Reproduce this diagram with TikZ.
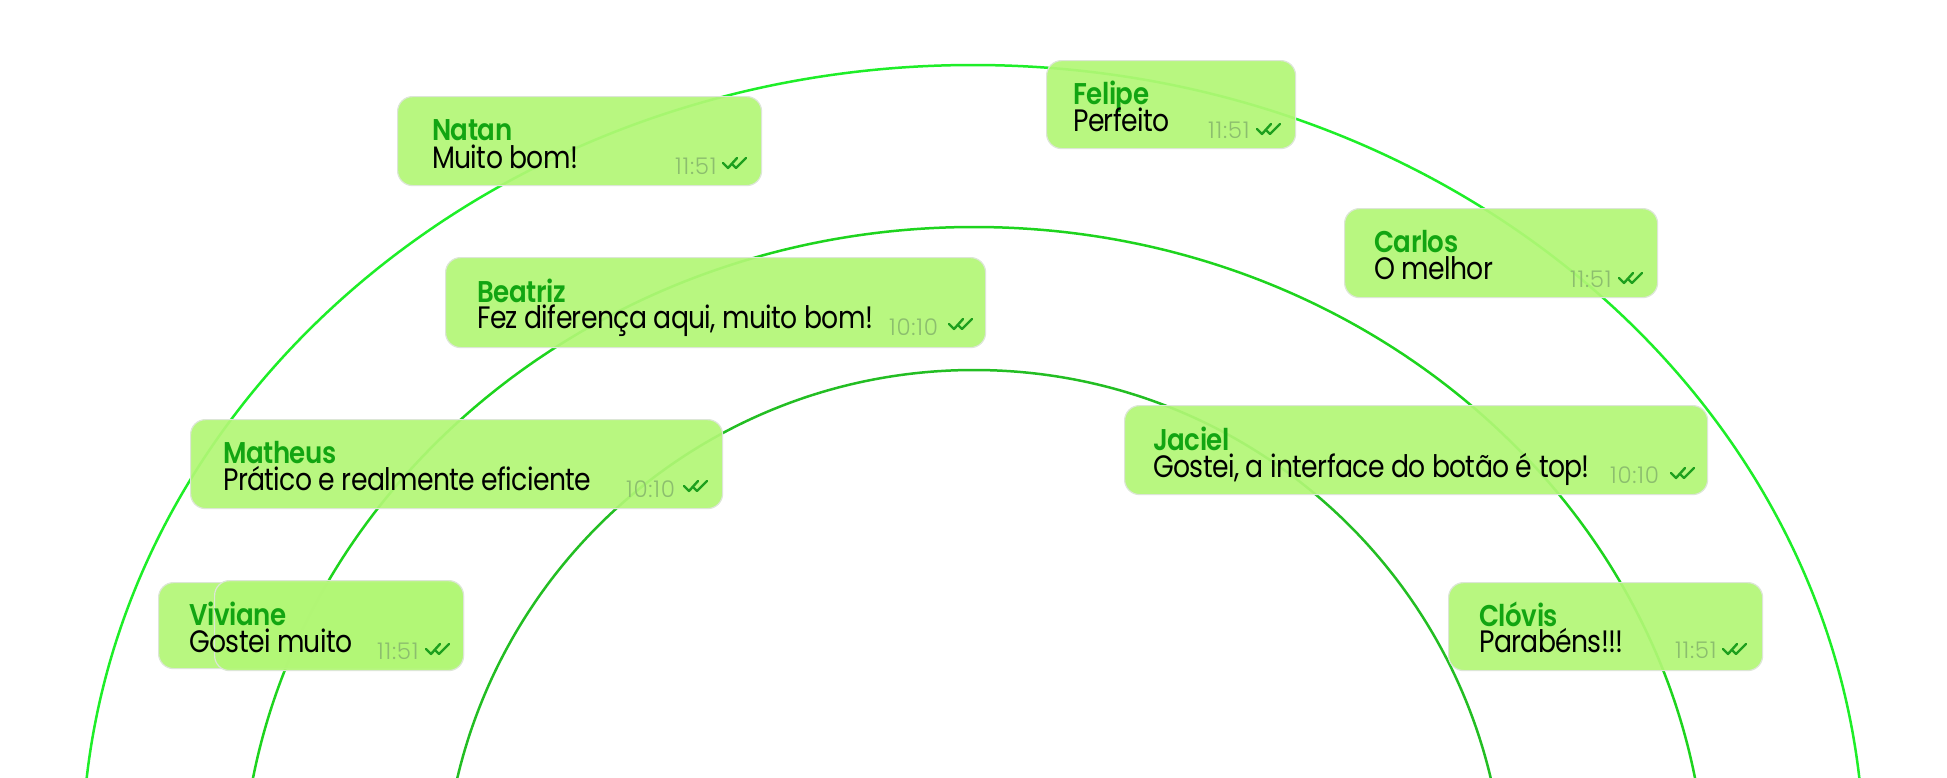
\documentclass[tikz,border=0pt]{standalone}
\usepackage{fontspec}
\setmainfont{Poppins}[FakeStretch=0.86,LetterSpace=-2]
\newfontfamily\namefont{Poppins SemiBold}[FakeStretch=0.87,LetterSpace=-1.5]
\newfontfamily\timefont{Poppins Light}[LetterSpace=3]
\definecolor{bubblefill}{RGB}{178,247,118}
\definecolor{bubbleedge}{RGB}{220,230,214}
\definecolor{namegreen}{RGB}{18,165,18}
\definecolor{timegray}{RGB}{140,190,110}
\definecolor{tickgreen}{RGB}{30,160,30}
\definecolor{arcA}{RGB}{30,238,40}
\definecolor{arcB}{RGB}{30,212,30}
\definecolor{arcC}{RGB}{35,190,35}
\tikzset{
  arcline/.style={line width=2.5pt},
  bubble/.style={draw=bubbleedge, line width=1.2pt, fill=bubblefill, fill opacity=0.92,
    rounded corners=15pt, inner sep=0pt, anchor=north west},
  nm/.style={anchor=base west, inner sep=0pt, font=\namefont\fontsize{30}{30}\selectfont, text=namegreen},
  msg/.style={anchor=base west, inner sep=0pt, font=\fontsize{31}{31}\selectfont, text=black},
  tm/.style={anchor=base west, inner sep=0pt, font=\timefont\fontsize{23}{23}\selectfont, text=timegray},
  dbltick/.pic={\draw[tickgreen, line width=2.4pt, line cap=round, line join=round]
      (0,5) -- (5,10) -- (14,0) (10,7) -- (13,10) -- (23,0);}
}
\begin{document}
\begin{tikzpicture}[x=1pt, y=-1pt]
\useasboundingbox (0,0) rectangle (1947,777);
\fill[white] (0,0) rectangle (1947,777);
% arcs
\begin{scope}
\clip (0,0) rectangle (1947,777);
\draw[arcline, arcA] (973,860) ellipse [x radius=891pt, y radius=795pt];
\draw[arcline, arcB] (974,900) ellipse [x radius=733pt, y radius=673pt];
\draw[arcline, arcC] (974,901) circle [radius=531pt];
\end{scope}
% bubbles
\node[bubble, minimum width=364pt, minimum height=89pt] (natanB) at (397,96) {};
\node[bubble, minimum width=249pt, minimum height=88pt] (felipeB) at (1046,60) {};
\node[bubble, minimum width=313pt, minimum height=89pt] (carlosB) at (1344,208) {};
\node[bubble, minimum width=540pt, minimum height=90pt] (beatrizB) at (445,257) {};
\node[bubble, minimum width=532pt, minimum height=89pt] (matheusB) at (190,419) {};
\node[bubble, minimum width=583pt, minimum height=89pt] (jacielB) at (1124,405) {};
\node[bubble, minimum width=305pt, minimum height=86pt] (vivianeB1) at (158,582) {};
\node[bubble, minimum width=249pt, minimum height=90pt] (vivianeB2) at (214,580) {};
\node[bubble, minimum width=314pt, minimum height=88pt] (clovisB) at (1448,582) {};
% names
\node[nm] (natanN) at (432,140) {Natan};
\node[nm] (felipeN) at (1073,104) {Felipe};
\node[nm] (carlosN) at (1374,252) {Carlos};
\node[nm] (beatrizN) at (477,302) {Beatriz};
\node[nm] (matheusN) at (223,463) {Matheus};
\node[nm] (jacielN) at (1153,450) {Jaciel};
\node[nm] (vivianeN) at (189,625) {Viviane};
\node[nm] (clovisN) at (1479,626) {Clóvis};
% messages
\node[msg] (natanM) at (432,168) {Muito bom!};
\node[msg] (felipeM) at (1073,131) {Perfeito};
\node[msg] (carlosM) at (1374,279) {O melhor};
\node[msg] (beatrizM) at (477,328) {Fez diferença aqui, muito bom!};
\node[msg] (matheusM) at (223,490) {Prático e realmente eficiente};
\node[msg] (jacielM) at (1153,477) {Gostei, a interface do botão é top!};
\node[msg] (vivianeM) at (189,652) {Gostei muito};
\node[msg] (clovisM) at (1479,652) {Parabéns!!!};
% times
\node[tm] (natanT) at (675,174) {11:51};
\node[tm] (felipeT) at (1208,138) {11:51};
\node[tm] (carlosT) at (1570,287) {11:51};
\node[tm] (beatrizT) at (889,335) {10:10};
\node[tm] (matheusT) at (626,497) {10:10};
\node[tm] (jacielT) at (1610,483) {10:10};
\node[tm] (vivianeT) at (377,659) {11:51};
\node[tm] (clovisT) at (1675,658) {11:51};
% ticks
\pic at (723,158) {dbltick};
\pic at (1257,124) {dbltick};
\pic at (1619,273) {dbltick};
\pic at (949,319) {dbltick};
\pic at (684,481) {dbltick};
\pic at (1671,468) {dbltick};
\pic at (426,644) {dbltick};
\pic at (1723,644) {dbltick};
\end{tikzpicture}
\end{document}
